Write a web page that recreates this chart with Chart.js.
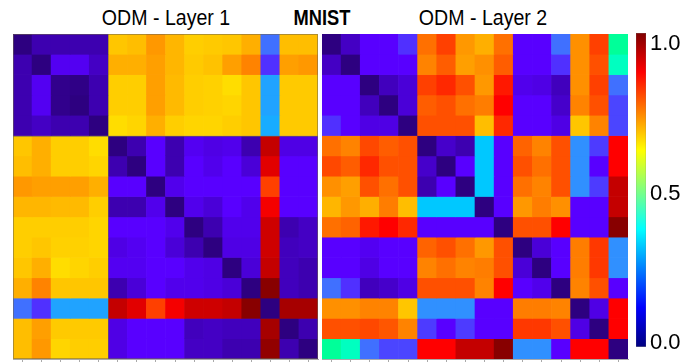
<!DOCTYPE html>
<html>
<head>
<meta charset="utf-8">
<script src="https://cdn.jsdelivr.net/npm/chart.js@4.4.0/dist/chart.umd.min.js"></script>
<style>
  body { margin: 0; background: #fff; width: 699px; height: 364px; position: relative; overflow: hidden;
         font-family: "Liberation Sans", Arial, sans-serif; }
  canvas { position: absolute; top: 0; }
  .title { position: absolute; top: 6px; font-size: 22px; line-height: 23px; color: #000;
           transform: translateX(-50%) scaleX(0.89); white-space: nowrap; }
</style>
</head>
<body>
<div class="title" style="left:166px">ODM - Layer 1</div>
<div class="title" style="left:322px;font-weight:bold;transform:translateX(-50%) scaleX(0.83)">MNIST</div>
<div class="title" style="left:483px">ODM - Layer 2</div>
<canvas id="layer1" width="330" height="364" style="left:0"></canvas>
<canvas id="layer2" width="320" height="364" style="left:318px"></canvas>
<canvas id="cbar" width="69" height="364" style="left:630px"></canvas>
<script>
// 16 samples, distance matrices (0 = same, 1 = far)
const samples = ['0','1','2','3','4','5','6','7','8','9','10','11','12','13','14','15'];

const layer1 = [
  [0.00,0.08,0.08,0.08,0.08,0.97,0.96,0.91,0.95,0.98,0.975,0.97,0.94,0.32,0.96,0.96],
  [0.08,0.00,0.18,0.18,0.11,0.94,0.94,0.92,0.95,0.975,0.965,0.92,0.88,0.26,0.92,0.91],
  [0.08,0.18,0.02,0.01,0.08,0.98,0.98,0.92,0.955,0.98,0.985,1.00,0.97,0.40,0.975,0.975],
  [0.08,0.18,0.02,0.00,0.08,0.98,0.98,0.92,0.955,0.98,0.985,0.99,0.97,0.40,0.975,0.975],
  [0.08,0.11,0.08,0.08,0.00,1.00,0.99,0.94,0.98,0.99,0.99,0.98,0.97,0.41,0.975,0.975],
  [0.97,0.94,0.98,0.98,1.00,0.00,0.08,0.20,0.08,0.18,0.16,0.17,0.08,0.64,0.16,0.16],
  [0.96,0.94,0.98,0.98,0.99,0.08,0.00,0.20,0.08,0.20,0.17,0.20,0.14,0.67,0.20,0.20],
  [0.91,0.92,0.92,0.92,0.94,0.20,0.20,0.00,0.17,0.20,0.20,0.20,0.20,0.78,0.20,0.20],
  [0.95,0.95,0.955,0.955,0.98,0.08,0.08,0.17,0.00,0.17,0.14,0.20,0.17,0.69,0.20,0.20],
  [0.98,0.98,0.98,0.98,0.99,0.20,0.20,0.20,0.17,0.00,0.08,0.17,0.17,0.65,0.08,0.11],
  [0.98,0.97,0.985,0.985,0.99,0.16,0.18,0.20,0.14,0.08,0.00,0.16,0.16,0.65,0.10,0.11],
  [0.97,0.94,1.00,0.99,0.98,0.18,0.18,0.20,0.20,0.17,0.16,0.00,0.14,0.64,0.10,0.08],
  [0.94,0.88,0.97,0.97,0.97,0.08,0.14,0.20,0.17,0.17,0.16,0.14,0.00,0.58,0.10,0.08],
  [0.32,0.26,0.40,0.40,0.40,0.64,0.67,0.78,0.69,0.65,0.65,0.64,0.58,0.00,0.61,0.61],
  [0.96,0.92,0.975,0.975,0.975,0.16,0.20,0.20,0.20,0.10,0.11,0.10,0.10,0.61,0.00,0.08],
  [0.96,0.91,0.99,0.98,0.98,0.16,0.20,0.20,0.20,0.11,0.11,0.08,0.08,0.59,0.08,0.00]
];

const layer2 = [
  [0.00,0.11,0.20,0.20,0.26,0.85,0.78,0.91,0.94,0.85,0.20,0.20,0.32,0.90,0.78,0.54],
  [0.11,0.00,0.20,0.20,0.20,0.88,0.82,0.92,0.90,0.82,0.20,0.20,0.26,0.90,0.80,0.50],
  [0.20,0.20,0.00,0.10,0.14,0.78,0.75,0.80,0.91,0.73,0.17,0.16,0.10,0.90,0.78,0.32],
  [0.20,0.20,0.10,0.00,0.14,0.82,0.80,0.85,0.87,0.70,0.20,0.20,0.12,0.88,0.80,0.28],
  [0.26,0.20,0.16,0.16,0.00,0.80,0.80,0.80,0.96,0.75,0.20,0.20,0.16,0.97,0.88,0.28],
  [0.85,0.88,0.79,0.82,0.80,0.00,0.12,0.08,0.44,0.20,0.83,0.88,0.80,0.38,0.27,0.70],
  [0.79,0.82,0.75,0.80,0.80,0.12,0.00,0.20,0.44,0.20,0.80,0.85,0.80,0.38,0.20,0.70],
  [0.90,0.92,0.80,0.85,0.80,0.08,0.20,0.00,0.44,0.20,0.85,0.88,0.80,0.38,0.27,0.64],
  [0.95,0.91,0.94,0.87,0.96,0.44,0.44,0.44,0.00,0.20,0.91,0.87,0.90,0.20,0.20,0.64],
  [0.85,0.83,0.73,0.70,0.75,0.20,0.20,0.20,0.20,0.00,0.80,0.80,0.70,0.20,0.20,0.58],
  [0.20,0.20,0.18,0.20,0.20,0.83,0.80,0.85,0.91,0.80,0.00,0.14,0.20,0.87,0.77,0.38],
  [0.20,0.20,0.16,0.20,0.20,0.88,0.85,0.88,0.87,0.80,0.14,0.00,0.20,0.87,0.77,0.38],
  [0.32,0.26,0.10,0.12,0.16,0.80,0.80,0.80,0.88,0.70,0.20,0.17,0.00,0.88,0.80,0.20],
  [0.90,0.90,0.88,0.88,0.97,0.38,0.38,0.38,0.20,0.20,0.87,0.87,0.88,0.00,0.16,0.70],
  [0.80,0.80,0.79,0.81,0.88,0.27,0.20,0.27,0.20,0.20,0.77,0.77,0.80,0.16,0.00,0.70],
  [0.54,0.50,0.32,0.28,0.28,0.70,0.70,0.64,0.64,0.58,0.38,0.38,0.20,0.70,0.70,0.00]
];

const cbarTicks = [0, 0.5, 1];
const cbarRange = [-0.013, 1.038];

// colour stops used for the cells
const cellStops = [
  [0.00, '#2d0080'], [0.08, '#3d00b0'], [0.14, '#4a00d8'], [0.20, '#5800ff'],
  [0.26, '#5030ff'], [0.32, '#4070ff'], [0.38, '#3090ff'], [0.44, '#00c8ff'],
  [0.50, '#00ffc0'], [0.54, '#00ff99'], [0.58, '#880000'], [0.64, '#c40000'],
  [0.70, '#ff0000'], [0.80, '#ff5000'], [0.90, '#ff9000'], [1.00, '#ffdd00']
];
// jet, for the colour bar
const jetStops = [
  [0, '#00007f'], [0.125, '#0000ff'], [0.375, '#00ffff'],
  [0.625, '#ffff00'], [0.875, '#ff0000'], [1, '#7f0000']
];

function hex(h) { return [1, 3, 5].map(i => parseInt(h.substr(i, 2), 16)); }

function cellColor(v) {
  for (let i = 1; i < cellStops.length; i++) {
    const [v1, c1] = cellStops[i];
    if (v <= v1) {
      const [v0, c0] = cellStops[i - 1];
      const t = (v - v0) / (v1 - v0);
      const a = hex(c0), b = hex(c1);
      const c = a.map((x, k) => Math.round(x + (b[k] - x) * t));
      return `rgb(${c[0]},${c[1]},${c[2]})`;
    }
  }
  return cellStops[cellStops.length - 1][1];
}

// thin frame + block separators drawn on top of the cells
const frame = {
  id: 'frame',
  afterDatasetsDraw(chart, args, opts) {
    if (!opts.show) return;
    const { ctx, chartArea: a, scales: { x, y } } = chart;
    ctx.save();
    ctx.strokeStyle = opts.color;
    ctx.lineWidth = 1;
    ctx.strokeRect(a.left + 0.5, a.top + 0.5, a.width - 1, a.height - 1);
    opts.splits.forEach(i => {
      const px = Math.round((x.getPixelForValue(i - 1) + x.getPixelForValue(i)) / 2) + 0.5;
      const py = Math.round(y.getPixelForValue(i)) + 0.5;
      ctx.beginPath();
      ctx.moveTo(px, a.top); ctx.lineTo(px, a.bottom);
      ctx.moveTo(a.left, py); ctx.lineTo(a.right, py);
      ctx.stroke();
    });
    ctx.restore();
  }
};

function heatmap(id, matrix, padding, framed) {
  return new Chart(document.getElementById(id), {
    type: 'bar',
    data: {
      labels: samples,
      datasets: matrix.map((row, r) => ({
        label: 'row ' + r,
        data: row.map(() => 1),
        backgroundColor: row.map(cellColor),
        borderWidth: 0,
        barPercentage: 1,
        categoryPercentage: 1
      }))
    },
    options: {
      responsive: false,
      animation: false,
      layout: { padding },
      plugins: {
        legend: { display: false },
        tooltip: { enabled: false },
        frame: { show: framed, color: 'rgba(110,100,80,0.55)', splits: [5] }
      },
      scales: {
        x: {
          stacked: true,
          ticks: { display: false },
          grid: { offset: false, drawOnChartArea: false, drawTicks: true, tickLength: 3, color: '#aaa' },
          border: { color: '#aaa' },
          afterFit: s => { s.height = 0; }
        },
        y: {
          stacked: true,
          reverse: true,
          min: 0,
          max: 16,
          ticks: { display: false },
          grid: { display: false },
          border: { color: '#aaa' },
          afterFit: s => { s.width = 0; }
        }
      }
    },
    plugins: [frame]
  });
}

heatmap('layer1', layer1, { left: 13, right: 12, top: 34, bottom: 5 }, true);
heatmap('layer2', layer2, { left: 4, right: 10, top: 34, bottom: 5 }, false);

new Chart(document.getElementById('cbar'), {
  type: 'bar',
  data: {
    labels: ['cbar'],
    datasets: [{
      data: [cbarRange],
      backgroundColor: ctx => {
        const area = ctx.chart.chartArea;
        if (!area) return '#888';
        const g = ctx.chart.ctx.createLinearGradient(0, area.bottom, 0, area.top);
        jetStops.forEach(([p, c]) => g.addColorStop(p, c));
        return g;
      },
      borderColor: '#666',
      borderWidth: 0.5,
      borderSkipped: false,
      barPercentage: 1,
      categoryPercentage: 1
    }]
  },
  options: {
    responsive: false,
    animation: false,
    layout: { padding: { left: 6, right: 0, top: 33, bottom: 4 } },
    plugins: { legend: { display: false }, tooltip: { enabled: false } },
    scales: {
      x: { display: false },
      y: {
        position: 'right',
        min: cbarRange[0],
        max: cbarRange[1],
        afterBuildTicks: s => { s.ticks = cbarTicks.map(v => ({ value: v })); },
        afterFit: s => { s.width = 53; },
        ticks: {
          padding: 4,
          color: '#000',
          font: { family: '"Liberation Sans", Arial, sans-serif', size: 22 },
          callback: v => v.toFixed(1)
        },
        grid: { display: false, drawTicks: false },
        border: { display: false }
      }
    }
  }
});
</script>
</body>
</html>
